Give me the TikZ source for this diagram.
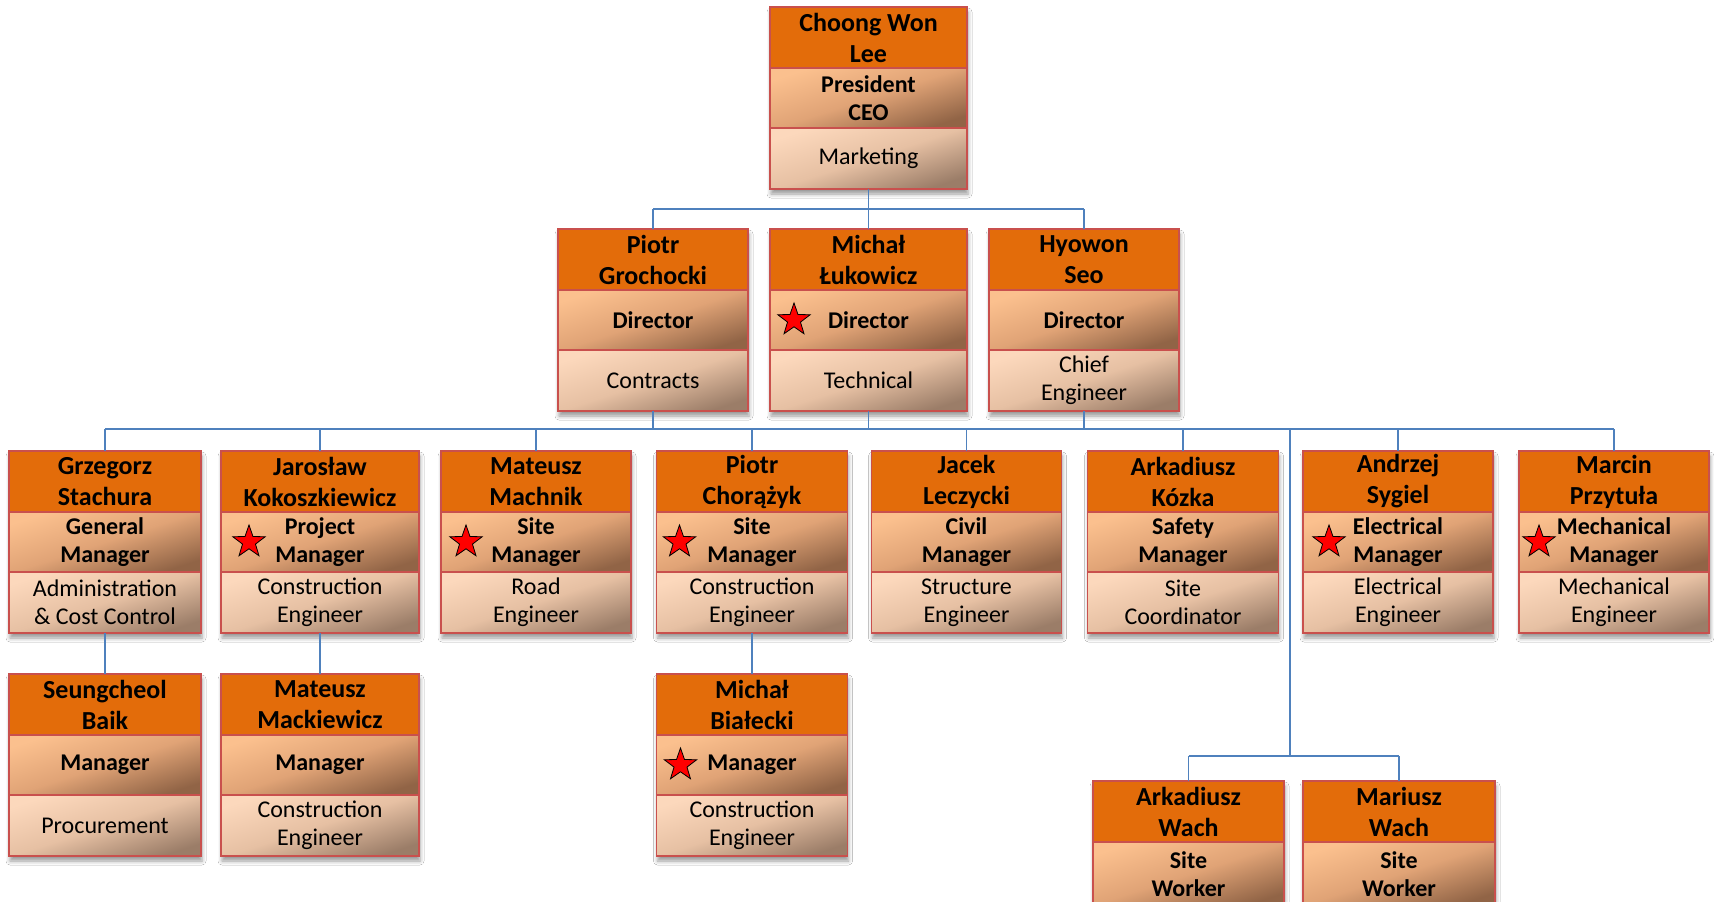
\documentclass[tikz,border=0pt]{standalone}
\usepackage{fontspec}
\setmainfont{Carlito}
\usetikzlibrary{shapes.geometric,shadows.blur,backgrounds}
\definecolor{orgorange}{HTML}{E36C0A}
\definecolor{boxborder}{HTML}{C9504D}
\definecolor{connblue}{HTML}{4F81BD}
\definecolor{tA}{RGB}{251,192,142}
\definecolor{tM}{RGB}{224,163,118}
\definecolor{tB}{RGB}{145,100,70}
\definecolor{dA}{RGB}{252,216,188}
\definecolor{dM}{RGB}{230,192,163}
\definecolor{dB}{RGB}{155,125,104}
\tikzset{
  sect/.style={rectangle, draw=boxborder, line width=1.6pt, inner sep=0pt, outer sep=0pt, align=center, anchor=north},
  namebox/.style={sect, fill=orgorange, minimum height=61pt, font=\fontsize{26}{31}\selectfont\bfseries},
  titlebox/.style={sect, top color=tA, bottom color=tB, middle color=tM, shading angle=18, minimum height=60pt, font=\fontsize{24}{28}\selectfont\bfseries},
  deptbox/.style={sect, top color=dA, bottom color=dB, middle color=dM, shading angle=18, minimum height=61pt, font=\fontsize{24}{28}\selectfont},
  conn/.style={draw=connblue, line width=1.8pt},
  redstar/.style={star, star points=5, star point ratio=2.5, fill=red, draw=black, line width=0.8pt, minimum size=34pt, inner sep=0pt},
  boxshadow/.style={blur shadow={shadow xshift=1pt, shadow yshift=-5pt, shadow blur radius=4pt, shadow opacity=40}}
}
% #1 id, #2 centre x, #3 top y, #4 width, #5 name, #6 title, #7 department
\newcommand\orgbox[7]{%
  \node[namebox, minimum width=#4pt] (#1-n) at (#2,#3) {#5};
  \node[titlebox, minimum width=#4pt] (#1-t) at (#1-n.south) {#6};
  \node[deptbox, minimum width=#4pt] (#1-d) at (#1-t.south) {#7};
  \begin{scope}[on background layer]
    \path[boxshadow] (#1-n.north west) rectangle (#1-d.south east);
  \end{scope}
}
\begin{document}
\begin{tikzpicture}[x=1pt,y=-1pt]
\begin{scope}[on background layer]
  \fill[white] (0,0) rectangle (1714,902);
\end{scope}
\useasboundingbox (0,0) rectangle (1714,902);

% bus coordinates
\coordinate (b1) at (0,209);
\coordinate (b2) at (0,429);
\coordinate (b3) at (0,756);
\coordinate (trunk) at (1290,429);

% level 1
\orgbox{ceo}{868.5}{7}{197}{Choong Won\\Lee}{President\\CEO}{Marketing}
% level 2
\orgbox{pg}{653}{229}{190}{Piotr\\Grochocki}{Director}{Contracts}
\orgbox{ml}{868.5}{229}{197}{Michał\\Łukowicz}{Director}{Technical}
\orgbox{hs}{1084}{229}{190}{Hyowon\\Seo}{Director}{Chief\\Engineer}
% level 3
\orgbox{gs}{105}{451}{192}{Grzegorz\\Stachura}{General\\Manager}{Administration\\\& Cost Control}
\orgbox{jk}{320}{451}{198}{Jarosław\\Kokoszkiewicz}{Project\\Manager}{Construction\\Engineer}
\orgbox{mm}{536}{451}{190}{Mateusz\\Machnik}{Site\\Manager}{Road\\Engineer}
\orgbox{pc}{752}{451}{191}{Piotr\\Chorążyk}{Site\\Manager}{Construction\\Engineer}
\orgbox{jl}{966.5}{451}{190}{Jacek\\Leczycki}{Civil\\Manager}{Structure\\Engineer}
\orgbox{ak}{1183}{451}{191}{Arkadiusz\\Kózka}{Safety\\Manager}{Site\\Coordinator}
\orgbox{as}{1398}{451}{190}{Andrzej\\Sygiel}{Electrical\\Manager}{Electrical\\Engineer}
\orgbox{mp}{1614}{451}{190}{Marcin\\Przytuła}{Mechanical\\Manager}{Mechanical\\Engineer}
% level 4
\orgbox{sb}{105}{674}{192}{Seungcheol\\Baik}{Manager}{Procurement}
\orgbox{mk}{320}{674}{198}{Mateusz\\Mackiewicz}{Manager}{Construction\\Engineer}
\orgbox{mb}{752}{674}{191}{Michał\\Białecki}{Manager}{Construction\\Engineer}
% bottom pair (cut by the page edge)
\node[namebox, minimum width=191pt] (aw-n) at (1188.5,781) {Arkadiusz\\Wach};
\node[titlebox, minimum width=191pt, minimum height=64pt] (aw-t) at (aw-n.south) {Site\\Worker};
\node[namebox, minimum width=192pt] (mw-n) at (1399,781) {Mariusz\\Wach};
\node[titlebox, minimum width=192pt, minimum height=64pt] (mw-t) at (mw-n.south) {Site\\Worker};
\begin{scope}[on background layer]
  \path[boxshadow] (aw-n.north west) rectangle (aw-t.south east);
  \path[boxshadow] (mw-n.north west) rectangle (mw-t.south east);
\end{scope}

% stars
\node[redstar] (ml-s) at ([xshift=24pt]ml-t.west) {};
\node[redstar] (jk-s) at ([xshift=28pt]jk-t.west) {};
\node[redstar] (mm-s) at ([xshift=25pt]mm-t.west) {};
\node[redstar] (pc-s) at ([xshift=23pt]pc-t.west) {};
\node[redstar] (as-s) at ([xshift=26pt]as-t.west) {};
\node[redstar] (mp-s) at ([xshift=20pt]mp-t.west) {};
\node[redstar] (mb-s) at ([xshift=24pt]mb-t.west) {};

% connectors level 1 -> 2
\draw[conn] (ceo-d.south) -- (ceo-d.south |- b1);
\draw[conn] (b1 -| pg-n.north) -- (b1 -| hs-n.north);
\foreach \c in {pg,ml,hs} \draw[conn] (b1 -| \c-n.north) -- (\c-n.north);

% connectors level 2 -> 3
\foreach \c in {pg,ml,hs} \draw[conn] (\c-d.south) -- (\c-d.south |- b2);
\draw[conn] (b2 -| gs-n.north) -- (b2 -| mp-n.north);
\foreach \c in {gs,jk,mm,pc,jl,ak,as,mp} \draw[conn] (b2 -| \c-n.north) -- (\c-n.north);

% connectors level 3 -> 4
\draw[conn] (gs-d.south) -- (sb-n.north);
\draw[conn] (jk-d.south) -- (mk-n.north);
\draw[conn] (pc-d.south) -- (mb-n.north);

% trunk to bottom pair
\draw[conn] (trunk) -- (trunk |- b3);
\draw[conn] (b3 -| aw-n.north) -- (b3 -| mw-n.north);
\draw[conn] (b3 -| aw-n.north) -- (aw-n.north);
\draw[conn] (b3 -| mw-n.north) -- (mw-n.north);
\end{tikzpicture}
\end{document}
